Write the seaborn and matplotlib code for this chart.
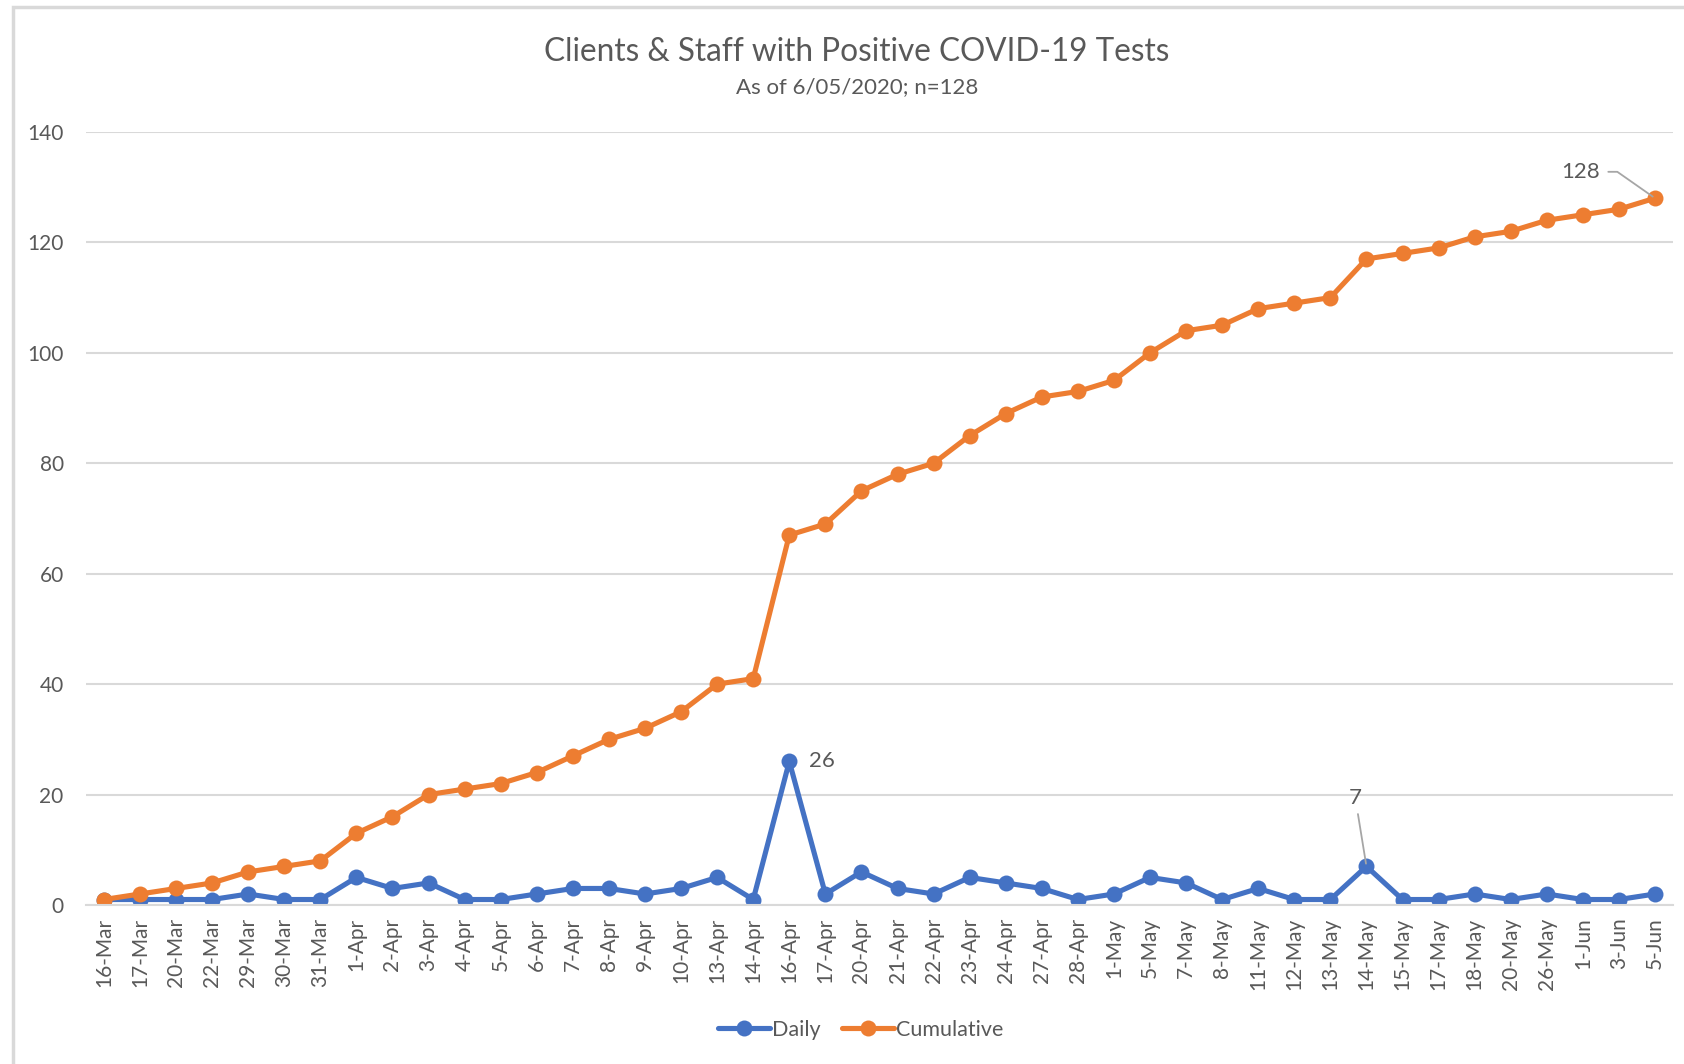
import pandas as pd
import matplotlib.pyplot as plt
import seaborn as sns
from matplotlib.patches import Rectangle

# Datos
dates = ['16-Mar', '17-Mar', '20-Mar', '22-Mar', '29-Mar', '30-Mar', '31-Mar',
         '1-Apr', '2-Apr', '3-Apr', '4-Apr', '5-Apr', '6-Apr', '7-Apr', '8-Apr',
         '9-Apr', '10-Apr', '13-Apr', '14-Apr', '16-Apr', '17-Apr', '20-Apr',
         '21-Apr', '22-Apr', '23-Apr', '24-Apr', '27-Apr', '28-Apr', '1-May',
         '5-May', '7-May', '8-May', '11-May', '12-May', '13-May', '14-May',
         '15-May', '17-May', '18-May', '20-May', '26-May', '1-Jun', '3-Jun', '5-Jun']
daily = [1, 1, 1, 1, 2, 1, 1, 5, 3, 4, 1, 1, 2, 3, 3, 2, 3, 5, 1, 26, 2, 6,
         3, 2, 5, 4, 3, 1, 2, 5, 4, 1, 3, 1, 1, 7, 1, 1, 2, 1, 2, 1, 1, 2]
cumulative = [1, 2, 3, 4, 6, 7, 8, 13, 16, 20, 21, 22, 24, 27, 30, 32, 35, 40,
              41, 67, 69, 75, 78, 80, 85, 89, 92, 93, 95, 100, 104, 105, 108,
              109, 110, 117, 118, 119, 121, 122, 124, 125, 126, 128]
y_ticks = [0, 20, 40, 60, 80, 100, 120, 140]

BLUE = '#4472C4'
ORANGE = '#ED7D31'
TXT = '#595959'
GRID = '#D9D9D9'

sns.set_style("white")
plt.rcParams['font.family'] = ['Lato', 'DejaVu Sans']

pos = list(range(len(dates)))
df = pd.DataFrame({
    'pos': pos * 2,
    'value': daily + cumulative,
    'series': ['Daily'] * len(dates) + ['Cumulative'] * len(dates),
})

fig = plt.figure(figsize=(16.84, 10.64), dpi=100)
ax = fig.add_axes([0.051, 0.1494, 0.9425, 0.7266])

sns.lineplot(data=df, x='pos', y='value', hue='series', sort=False,
             palette={'Daily': BLUE, 'Cumulative': ORANGE},
             marker='o', markersize=11.5, markeredgewidth=0, linewidth=3.7,
             ax=ax)

ax.set_xlim(-0.5, len(dates) - 0.5)
ax.set_ylim(0, 140)
ax.set_yticks(y_ticks)
ax.set_yticklabels([str(v) for v in y_ticks])
ax.set_xticks(pos)
ax.set_xticklabels(dates, rotation=90)
ax.set_xticks([p - 0.5 for p in pos] + [len(dates) - 0.5], minor=True)
ax.tick_params(axis='x', which='major', length=0, pad=9, labelsize=15, labelcolor=TXT)
ax.tick_params(axis='x', which='minor', length=7, width=1.3, color=GRID, direction='out')
ax.tick_params(axis='y', length=0, pad=16, labelsize=15, labelcolor=TXT)
ax.set_xlabel('')
ax.set_ylabel('')

ax.grid(axis='y', color=GRID, linewidth=1.5)
ax.set_axisbelow(True)
for side in ['top', 'right', 'left']:
    ax.spines[side].set_visible(False)
ax.spines['bottom'].set_color(GRID)
ax.spines['bottom'].set_linewidth(1.5)

# Etiquetas de datos
i26 = dates.index('16-Apr')
ax.annotate(str(daily[i26]), xy=(i26, daily[i26]), xytext=(14, 0),
            textcoords='offset points', ha='left', va='center',
            fontsize=16, color=TXT)
i7 = dates.index('14-May')
ax.annotate(str(daily[i7]), xy=(i7, daily[i7]), xytext=(-8, 42),
            textcoords='offset points', ha='center', va='bottom',
            fontsize=16, color=TXT,
            arrowprops=dict(arrowstyle='-', color='#A6A6A6', lw=1.3,
                            shrinkA=2, shrinkB=2))
il = len(dates) - 1
ax.annotate(str(cumulative[il]), xy=(il, cumulative[il]), xytext=(-40, 19),
            textcoords='offset points', ha='right', va='center',
            fontsize=16, color=TXT,
            arrowprops=dict(arrowstyle='-', color='#A6A6A6', lw=1.3,
                            shrinkA=4, shrinkB=2,
                            connectionstyle='angle,angleA=0,angleB=145,rad=0'))

handles, labels = ax.get_legend_handles_labels()
ax.legend(handles, labels, loc='center', bbox_to_anchor=(0.511, 0.032),
          bbox_transform=fig.transFigure, ncol=2, frameon=False,
          fontsize=15.5, labelcolor=TXT, handlelength=2.4, handletextpad=0.1,
          columnspacing=1.0)

fig.text(0.509, 0.951, 'Clients & Staff with Positive COVID-19 Tests',
         ha='center', va='center', fontsize=22.7, color=TXT)
fig.text(0.509, 0.918, 'As of 6/05/2020; n=128',
         ha='center', va='center', fontsize=16, color=TXT)

# Marco del gráfico
fig.patches.append(Rectangle((0.008, -0.05), 1.1, 1.043, transform=fig.transFigure,
                             fill=False, edgecolor=GRID, linewidth=2.5, zorder=0))

fig.savefig('out.png', dpi=100)
